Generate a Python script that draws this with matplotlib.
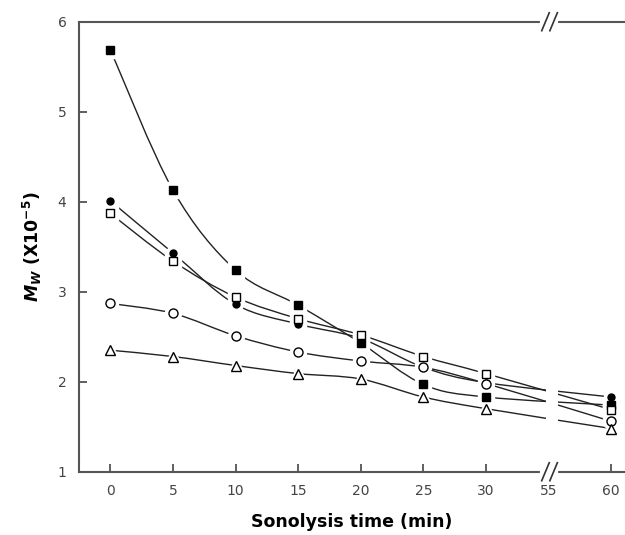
import numpy as np
import matplotlib.pyplot as plt
from matplotlib.path import Path
from matplotlib.patches import PathPatch, Rectangle

plt.rcParams["mathtext.fontset"] = "custom"
plt.rcParams["mathtext.it"] = "DejaVu Sans:bold:italic"
plt.rcParams["mathtext.rm"] = "DejaVu Sans:bold"

# sonolysis time (min) and Mw (x10^-5)
time_labels = ["0", "5", "10", "15", "20", "25", "30", "55", "60"]
times = [0, 5, 10, 15, 20, 25, 30, 60]
pos = [0, 1, 2, 3, 4, 5, 6, 8]  # axis positions (break between 30 and 60)

mw_filled_sq = [5.69, 4.13, 3.24, 2.85, 2.43, 1.97, 1.83, 1.74]
mw_filled_ci = [4.01, 3.43, 2.86, 2.64, 2.48, 2.16, 1.99, 1.83]
mw_open_sq = [3.87, 3.34, 2.94, 2.70, 2.52, 2.28, 2.09, 1.69]
mw_open_ci = [2.87, 2.76, 2.51, 2.33, 2.23, 2.16, 1.98, 1.56]
mw_open_tri = [2.35, 2.28, 2.18, 2.09, 2.03, 1.83, 1.70, 1.48]

series = [
    (mw_filled_sq, "s", "black", 6.0),
    (mw_filled_ci, "o", "black", 5.0),
    (mw_open_sq, "s", "white", 6.0),
    (mw_open_ci, "o", "white", 6.5),
    (mw_open_tri, "^", "white", 7.5),
]


def smooth_path(x, y):
    # Catmull-Rom curve through the points, drawn as cubic Bezier segments
    x = np.asarray(x, float)
    y = np.asarray(y, float)
    verts = [(x[0], y[0])]
    codes = [Path.MOVETO]
    n = len(x)
    for i in range(n - 1):
        p0 = (x[max(i - 1, 0)], y[max(i - 1, 0)])
        p1 = (x[i], y[i])
        p2 = (x[i + 1], y[i + 1])
        p3 = (x[min(i + 2, n - 1)], y[min(i + 2, n - 1)])
        c1 = (p1[0] + (p2[0] - p0[0]) / 6, p1[1] + (p2[1] - p0[1]) / 6)
        c2 = (p2[0] - (p3[0] - p1[0]) / 6, p2[1] - (p3[1] - p1[1]) / 6)
        verts += [c1, c2, p2]
        codes += [Path.CURVE4] * 3
    return Path(verts, codes)


fig = plt.figure(figsize=(6.25, 5.35), dpi=100)
ax = fig.add_axes([0.1264, 0.1183, 0.8736, 0.8411])

for vals, mk, fc, ms in series:
    ax.add_patch(PathPatch(smooth_path(pos, vals), fill=False, lw=1.0,
                           ec="#222222", zorder=2))
    # white halo leaves a gap in the line around each marker
    ax.plot(pos, vals, ls="none", marker=mk, ms=ms + 5, mfc="white",
            mec="white", zorder=3)
    ax.plot(pos, vals, ls="none", marker=mk, ms=ms, mfc=fc, mec="black",
            mew=1.0, zorder=4)

# axis break between 30 and 60
tr = ax.get_xaxis_transform()
ax.add_patch(Rectangle((6.96, 0.01), 0.19, 0.98, transform=tr,
                       facecolor="white", edgecolor="none", zorder=3.5))
for yb in (0, 1):
    ax.plot([6.9, 7.12], [yb, yb], color="white", lw=3, transform=tr,
            clip_on=False, zorder=5)
    for xb in (6.95, 7.08):
        ax.plot([xb - 0.06, xb + 0.06], [yb - 0.02, yb + 0.02],
                color="#333333", lw=1.2, transform=tr, clip_on=False,
                zorder=6)

ax.set_xlim(-0.5, 8.22)
ax.set_ylim(1, 6)
ax.set_xticks(range(9))
ax.set_xticklabels(time_labels)
ax.set_yticks([1, 2, 3, 4, 5, 6])
ax.xaxis.get_major_ticks()[7].tick1line.set_visible(False)

ax.tick_params(direction="in", length=6, width=1.2, color="#444444",
               labelsize=10, labelcolor="#444444")
ax.tick_params(axis="x", pad=9)
ax.tick_params(axis="y", pad=9)

ax.spines["right"].set_visible(False)
for s in ("left", "bottom", "top"):
    ax.spines[s].set_linewidth(1.5)
    ax.spines[s].set_color("#555555")

ax.set_xlabel("Sonolysis time (min)", fontsize=12.5, fontweight="bold",
              labelpad=11)
ax.set_ylabel(r"$M_W$ (X10$^{\mathrm{-5}}$)", fontsize=12.5,
              fontweight="bold", labelpad=10)

fig.savefig("out.png", dpi=100)
